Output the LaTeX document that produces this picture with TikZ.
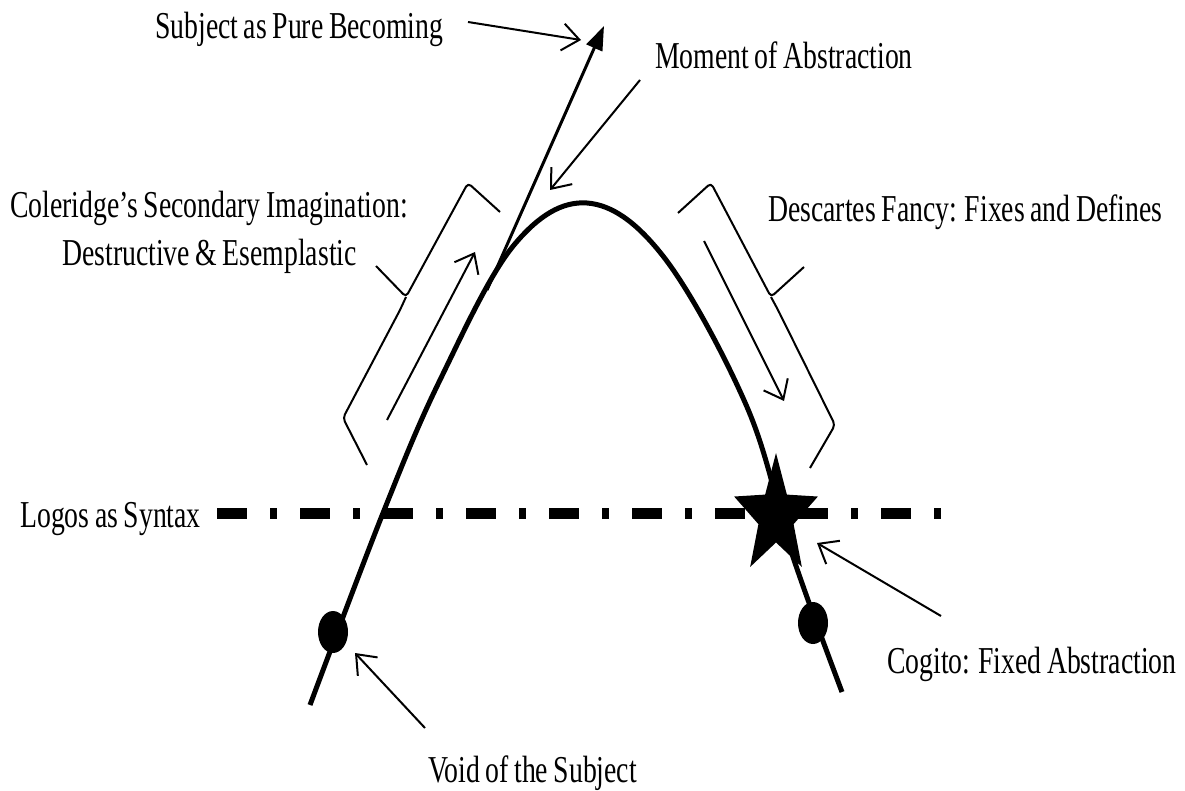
\documentclass[tikz,border=0pt]{standalone}
\usepackage{fontspec}
\setmainfont{Liberation Serif}[FakeStretch=0.73,WordSpace=0.8]
\usetikzlibrary{arrows.meta}
\begin{document}
\begin{tikzpicture}[x=1pt,y=-1pt,
  lbl/.style={font=\fontsize{38}{44}\selectfont, inner sep=0pt, anchor=base west},
  ptr/.style={line width=2pt, -{Straight Barb[length=17pt,width=27pt]}},
  brace/.style={line width=2pt, rounded corners=4pt, line join=round},
  curve/.style={line width=5pt, line cap=butt},
  logos/.style={line width=11pt, dash pattern=on 30pt off 23pt on 7pt off 23pt}]
\useasboundingbox (0,0) rectangle (1185,791);

% labels
\node[lbl] (subj) at (155,39) {Subject as Pure Becoming};
\node[lbl] (mom) at (655,69) {Moment of Abstraction};
\node[lbl] (col1) at (10,218) {Coleridge’s Secondary Imagination:};
\node[lbl] (col2) at (62,266) {Destructive \& Esemplastic};
\node[lbl] (desc) at (768,222) {Descartes Fancy: Fixes and Defines};
\node[lbl] (logl) at (20,527) {Logos as Syntax};
\node[lbl] (cog) at (887,673) {Cogito: Fixed Abstraction};
\node[lbl] (void) at (428,782) {Void of the Subject};

% coordinates
\coordinate (subjS) at (468,22);  \coordinate (subjE) at (581,40);
\coordinate (momS) at (640,80);   \coordinate (momE) at (550,190);
\coordinate (tanS) at (487,290);  \coordinate (tanE) at (604,26);
\coordinate (lupS) at (387,420);  \coordinate (lupE) at (475,252);
\coordinate (rdnS) at (704,241);  \coordinate (rdnE) at (784,401);
\coordinate (voidS) at (425,728); \coordinate (voidE) at (355,653);
\coordinate (cogS) at (941,616);  \coordinate (cogE) at (817,543);
\coordinate (logS) at (217,513);  \coordinate (logE) at (941,513);

% logos line
\draw[logos] (logS) -- (logE);

% main curve
\draw[curve] plot[smooth, tension=0.6] coordinates {(310,705) (383,513) (440,380) (514,245) (587,203) (663,256) (747,407) (793,557) (842,692)};

% tangent
\draw[line width=3pt, -{Triangle[length=24pt,width=17pt]}] (tanS) -- (tanE);

% pointer arrows
\draw[ptr] (subjS) -- (subjE);
\draw[ptr] (momS) -- (momE);
\draw[ptr] (lupS) -- (lupE);
\draw[ptr] (rdnS) -- (rdnE);
\draw[ptr] (voidS) -- (voidE);
\draw[ptr] (cogS) -- (cogE);

% braces
\draw[brace] (500,212) -- (468,183) -- (406,297) -- (376,266);
\draw[brace] (406,297) -- (400,310) -- (343,418) -- (367,465);
\draw[brace] (678,213) -- (711,183) -- (771,297) -- (804,267);
\draw[brace] (771,297) -- (778,310) -- (835,425) -- (810,468);

% dots
\fill (333,632) ellipse [x radius=15, y radius=21];
\fill (813,623) ellipse [x radius=15, y radius=21];

% star
\fill[shift={(776,516)}] (0,-63) -- (-10.86,-21.41) -- (-41.85,-19.47) -- (-17.58,8.18) -- (-25.86,50.97) -- (0,26.46) -- (25.86,50.97) -- (17.58,8.18) -- (41.85,-19.47) -- (10.86,-21.41) -- cycle;
\end{tikzpicture}
\end{document}
